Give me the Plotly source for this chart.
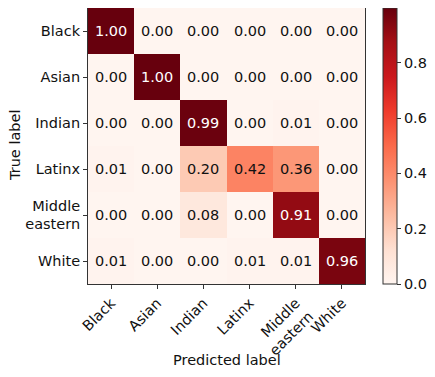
import plotly.graph_objects as go

# Klassen und Werte der Konfusionsmatrix
labels = ["Black", "Asian", "Indian", "Latinx", "Middle<br>eastern", "White"]
matrix = [
    [1.00, 0.00, 0.00, 0.00, 0.00, 0.00],
    [0.00, 1.00, 0.00, 0.00, 0.00, 0.00],
    [0.00, 0.00, 0.99, 0.00, 0.01, 0.00],
    [0.01, 0.00, 0.20, 0.42, 0.36, 0.00],
    [0.00, 0.00, 0.08, 0.00, 0.91, 0.00],
    [0.01, 0.00, 0.00, 0.01, 0.01, 0.96],
]
cbar_ticks = [0.0, 0.2, 0.4, 0.6, 0.8]

# matplotlib "Reds"
reds = ["#fff5f0", "#fee0d2", "#fcbba1", "#fc9272", "#fb6a4a",
        "#ef3b2c", "#cb181d", "#a50f15", "#67000d"]
scale = [[i / (len(reds) - 1), c] for i, c in enumerate(reds)]

font = "DejaVu Sans"
fs = 14.5
zmax = 0.998

fig = go.Figure(go.Heatmap(
    z=matrix, x=labels, y=labels,
    colorscale=scale, zmin=0, zmax=zmax,
    xgap=0, ygap=0,
    hovertemplate="%{y} → %{x}: %{z:.2f}<extra></extra>",
    colorbar=dict(
        x=1.065, xanchor="left", y=0.5, yanchor="middle",
        len=1, lenmode="fraction", ypad=0, xpad=0,
        thickness=14, outlinewidth=1, outlinecolor="#333",
        tickvals=cbar_ticks, tickformat=".1f",
        ticks="outside", ticklen=4, tickcolor="#333",
        tickfont=dict(family=font, size=fs, color="#111"),
    ),
))

# Zahlen in den Zellen
annotations = []
for i, row in enumerate(matrix):
    for j, v in enumerate(row):
        annotations.append(dict(
            x=labels[j], y=labels[i], text=f"{v:.2f}", showarrow=False,
            font=dict(family=font, size=fs,
                      color="white" if v > zmax / 2 else "#111"),
        ))

# Achsentitel als Annotationen
annotations.append(dict(
    text="Predicted label", xref="paper", yref="paper", x=0.5, y=-0.275,
    xanchor="center", yanchor="middle", showarrow=False,
    font=dict(family=font, size=fs, color="#111"),
))
annotations.append(dict(
    text="True label", xref="paper", yref="paper", x=-0.2635, y=0.5,
    xanchor="center", yanchor="middle", showarrow=False, textangle=-90,
    font=dict(family=font, size=fs, color="#111"),
))

# Seite hat 8px Body-Rand -> Figur etwas kleiner
fig.update_layout(
    width=427, height=369,
    margin=dict(l=80, r=70, t=0, b=93),
    paper_bgcolor="white", plot_bgcolor="white",
    font=dict(family=font, size=fs, color="#111"),
    annotations=annotations,
)
fig.update_xaxes(
    tickangle=-45, ticks="outside", ticklen=4, tickcolor="#333",
    showline=True, linecolor="#333", linewidth=1, mirror=True,
    showgrid=False, zeroline=False,
)
fig.update_yaxes(
    autorange="reversed", ticks="outside", ticklen=4, tickcolor="#333",
    showline=True, linecolor="#333", linewidth=1, mirror=True,
    showgrid=False, zeroline=False,
)

fig.write_html("out.html")
